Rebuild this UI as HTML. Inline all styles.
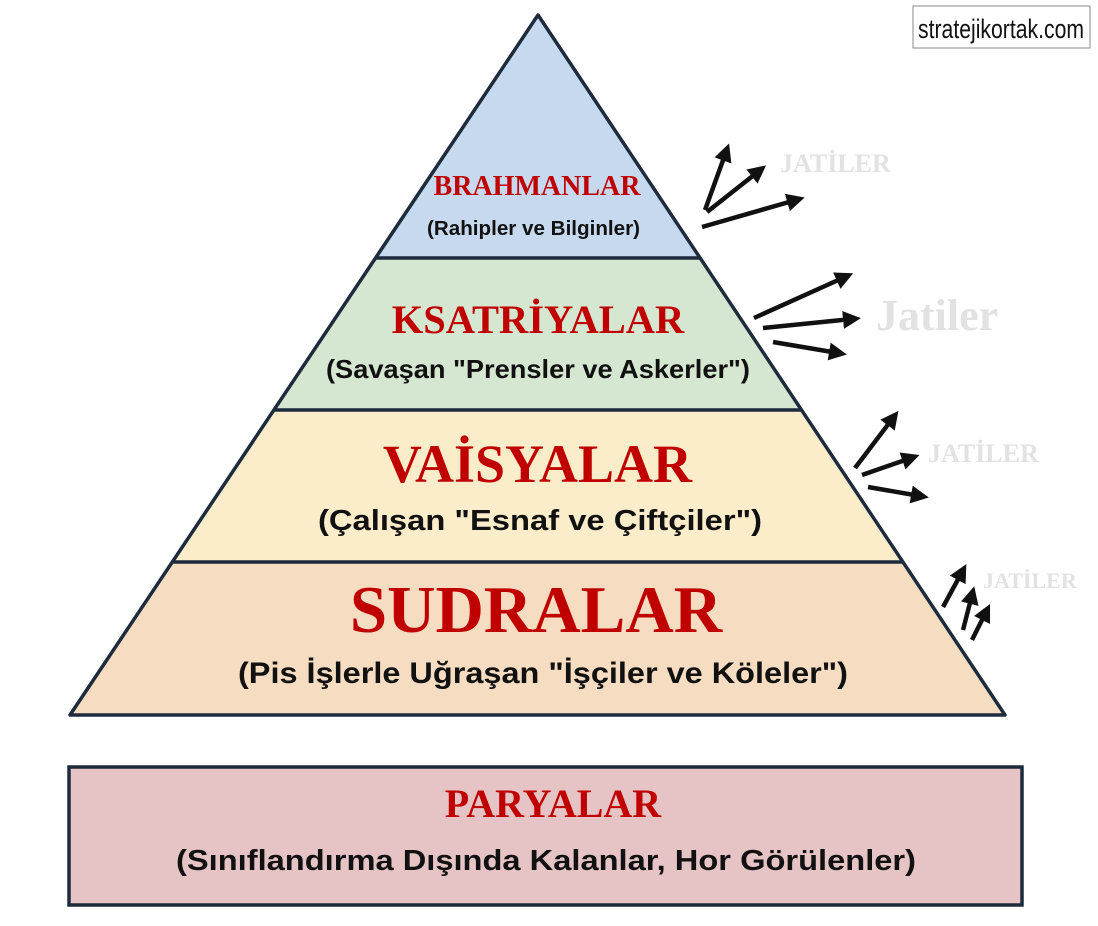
<!DOCTYPE html>
<html><head><meta charset="utf-8"><style>
html,body{margin:0;padding:0;background:#fff;}
svg{display:block}
.s{font-family:"Liberation Serif",serif;font-weight:bold;fill:#c00000;text-anchor:middle}
.a{font-family:"Liberation Sans",sans-serif;font-weight:bold;fill:#111;text-anchor:middle}
.j{font-family:"Liberation Serif",serif;font-weight:bold;fill:#e2e2e2}
</style></head><body>
<svg width="1098" height="926" viewBox="0 0 1098 926" xmlns="http://www.w3.org/2000/svg">
<defs>
<marker id="ah" markerWidth="4" markerHeight="4" refX="2" refY="2" orient="auto" markerUnits="strokeWidth">
<path d="M0,0 L4,2 L0,4 z" fill="#111"/></marker>
</defs>
<polygon points="538,15 375.5,258 700,258" fill="#c6d9ee"/>
<polygon points="375.5,258 700,258 801.5,410 274,410" fill="#d5e6d1"/>
<polygon points="274,410 801.5,410 903,562 172,562" fill="#fcedca"/>
<polygon points="172,562 903,562 1005,715 70,715" fill="#f6dcc0"/>
<g stroke="#1d2b3c" stroke-width="3.5" fill="none">
<polygon points="538,15 1005,715 70,715" stroke-linejoin="round"/>
<line x1="375.5" y1="258" x2="700" y2="258"/>
<line x1="274" y1="410" x2="801.5" y2="410"/>
<line x1="172" y1="562" x2="903" y2="562"/>
</g>
<rect x="69" y="767" width="953" height="138" fill="#e6c4c6" stroke="#1d2b3c" stroke-width="3.5"/>
<text class="s" x="537" y="195" font-size="28">BRAHMANLAR</text>
<text class="a" x="533.5" y="235" font-size="20" textLength="213" lengthAdjust="spacingAndGlyphs">(Rahipler ve Bilginler)</text>
<text class="s" x="538" y="333" font-size="40.5">KSATRİYALAR</text>
<text class="a" x="538" y="378" font-size="26" textLength="424" lengthAdjust="spacingAndGlyphs">(Savaşan "Prensler ve Askerler")</text>
<text class="s" x="537.5" y="482" font-size="54">VAİSYALAR</text>
<text class="a" x="540" y="530" font-size="29" textLength="444" lengthAdjust="spacingAndGlyphs">(Çalışan "Esnaf ve Çiftçiler")</text>
<text class="s" x="536" y="632" font-size="67">SUDRALAR</text>
<text class="a" x="543" y="683" font-size="30" textLength="610" lengthAdjust="spacingAndGlyphs">(Pis İşlerle Uğraşan "İşçiler ve Köleler")</text>
<text class="s" x="553" y="817" font-size="40">PARYALAR</text>
<text class="a" x="546" y="870" font-size="29" textLength="740" lengthAdjust="spacingAndGlyphs">(Sınıflandırma Dışında Kalanlar, Hor Görülenler)</text>
<text class="j" x="780" y="172" font-size="26">JATİLER</text>
<text class="j" x="876" y="330" font-size="44">Jatiler</text>
<text class="j" x="928" y="462" font-size="26">JATİLER</text>
<text class="j" x="983" y="588" font-size="22">JATİLER</text>
<g stroke="#111" stroke-width="4.5" marker-end="url(#ah)" fill="none">
<line x1="705" y1="210" x2="726" y2="152"/>
<line x1="707" y1="212" x2="759" y2="171"/>
<line x1="702" y1="227" x2="796" y2="200"/>
<line x1="754" y1="318" x2="845" y2="277"/>
<line x1="763" y1="328" x2="852" y2="319"/>
<line x1="773" y1="342" x2="838" y2="353"/>
<line x1="855" y1="468" x2="893" y2="418"/>
<line x1="862" y1="475" x2="911" y2="458"/>
<line x1="868" y1="487" x2="920" y2="496"/>
<line x1="943" y1="607" x2="962" y2="572"/>
<line x1="963" y1="630" x2="972" y2="595"/>
<line x1="972" y1="640" x2="986" y2="612"/>
</g>
<rect x="913" y="6" width="177" height="42" fill="#fff" stroke="#888" stroke-width="1"/>
<text x="918" y="38" font-family="'Liberation Sans Narrow','Liberation Sans',sans-serif" font-size="27" fill="#111" textLength="166" lengthAdjust="spacingAndGlyphs">stratejikortak.com</text>
</svg>
</body></html>
